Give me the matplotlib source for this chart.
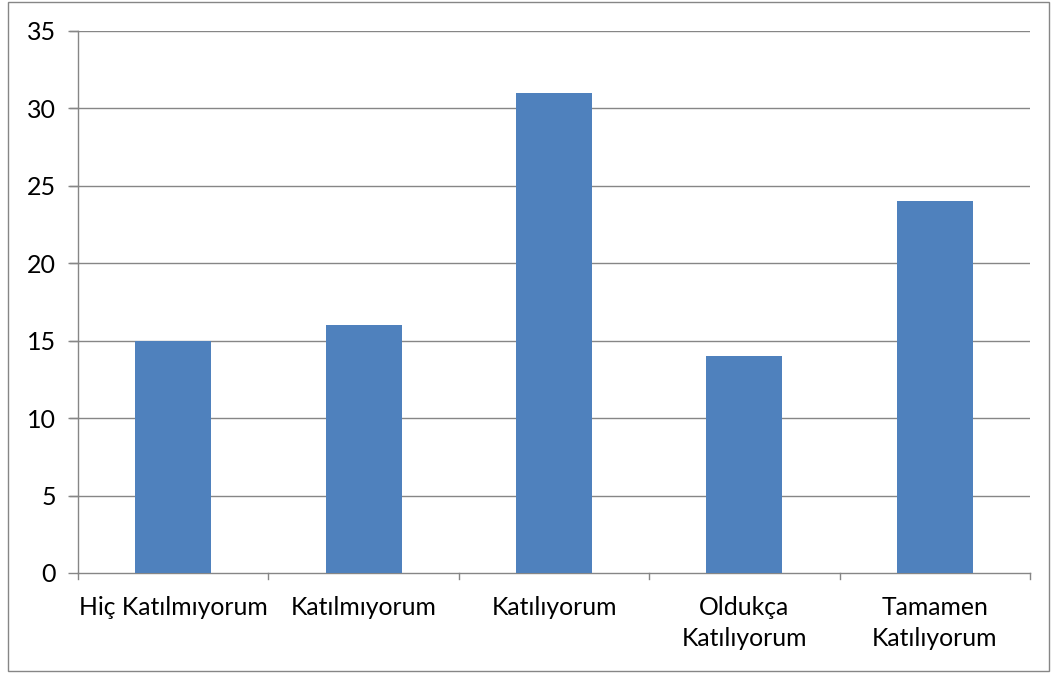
import matplotlib
matplotlib.use("Agg")
import matplotlib.pyplot as plt
from matplotlib.patches import Rectangle

categories = ["Hiç Katılmıyorum", "Katılmıyorum", "Katılıyorum", "Oldukça\nKatılıyorum", "Tamamen\nKatılıyorum"]
values = [15, 16, 31, 14, 24]
yticks = [0, 5, 10, 15, 20, 25, 30, 35]

plt.rcParams['font.family'] = ['Lato', 'DejaVu Sans']

W, H = 1055, 675
fig = plt.figure(figsize=(W/100, H/100), dpi=100)
ax = fig.add_axes([78/W, 1-573/H, (1030-78)/W, (573-31)/H])

grid_c = "#868686"
x = list(range(len(categories)))
ax.bar(x, values, width=0.4, color="#4F81BD", zorder=3)
ax.set_xlim(-0.5, len(categories)-0.5)
ax.set_ylim(0, 35)
ax.set_yticks(yticks)
ax.set_yticklabels([str(v) for v in yticks], fontsize=18)
for v in yticks[1:]:
    ax.axhline(v, color=grid_c, lw=1, zorder=1)
    ax.plot([-0.5 - 8/190.4, -0.5], [v, v], color=grid_c, lw=1, clip_on=False)

ax.set_xticks(x)
ax.set_xticklabels(categories, fontsize=17.8, linespacing=1.4)
ax.tick_params(axis='x', length=0, pad=16.5)
ax.tick_params(axis='y', length=7, color=grid_c, width=1, pad=9)
# x boundary ticks
for b in [i - 0.5 for i in range(len(categories)+1)]:
    ax.plot([b, b], [0, -6*35/542], color=grid_c, lw=1, clip_on=False)

for s in ['top', 'right']:
    ax.spines[s].set_visible(False)
for s in ['left', 'bottom']:
    ax.spines[s].set_color(grid_c)
    ax.spines[s].set_linewidth(1)

for lbl in ax.get_xticklabels():
    lbl.set_verticalalignment('top')

fig.patches.append(Rectangle((8/W, 1-671/H), (1049-8)/W, (671-2)/H, transform=fig.transFigure,
                             fill=False, edgecolor="#868686", lw=1))

fig.savefig("out.png", dpi=100)
